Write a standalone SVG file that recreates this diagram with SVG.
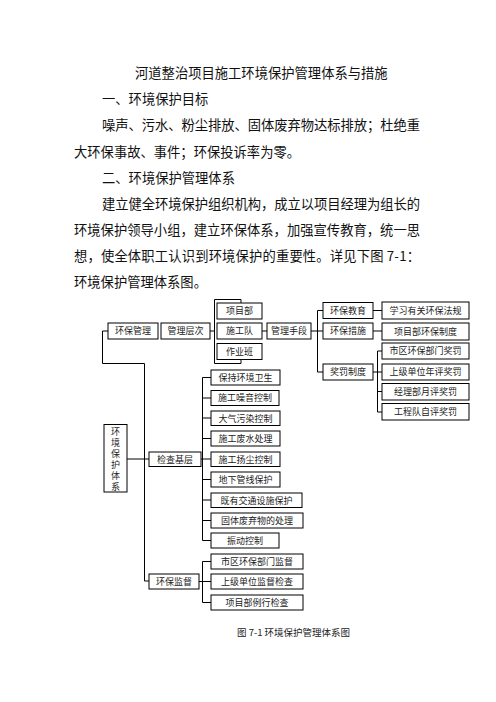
<svg xmlns="http://www.w3.org/2000/svg" width="496" height="702" viewBox="0 0 496 702">
<style>
.t{font-family:"Noto Sans CJK SC","Liberation Serif",serif;font-size:13.3px;fill:#111}
.b rect{fill:#fff;stroke:#000;stroke-width:1}
.b text{font-family:"Noto Sans CJK SC","Liberation Serif",serif;font-size:9px;fill:#222;text-anchor:middle}
.c path{fill:none;stroke:#000;stroke-width:1}
.cap{font-family:"Noto Sans CJK SC","Liberation Serif",serif;font-size:9.5px;fill:#222}
</style>
<rect width="496" height="702" fill="#fff"/>
<g id="text">
<text class="t" x="135" y="78">河道整治项目施工环境保护管理体系与措施</text>
<text class="t" x="102" y="104">一、环境保护目标</text>
<text class="t" x="102" y="130" textLength="318" lengthAdjust="spacing">噪声、污水、粉尘排放、固体废弃物达标排放；杜绝重</text>
<text class="t" x="74" y="157">大环保事故、事件；环保投诉率为零。</text>
<text class="t" x="102" y="183">二、环境保护管理体系</text>
<text class="t" x="102" y="209" textLength="318" lengthAdjust="spacing">建立健全环境保护组织机构，成立以项目经理为组长的</text>
<text class="t" x="74" y="235" textLength="346" lengthAdjust="spacing">环境保护领导小组，建立环保体系，加强宣传教育，统一思</text>
<text class="t" x="74" y="261" textLength="346" lengthAdjust="spacing">想，使全体职工认识到环境保护的重要性。详见下图 7-1：</text>
<text class="t" x="74" y="287">环境保护管理体系图。</text>
</g>
<g class="c" id="connectors">
<path d="M108 331H102.5V363.5H144.5V581H149"/>
<path d="M210 331H214.5"/>
<path d="M241 303V299.5H214.5V363.5H241V359"/>
<path d="M262 331H267"/>
<path d="M311 331H323M323 310.5H317.5V372H323"/>
<path d="M373 310.5H382M373 331H382M373 372H377.5M382 351H377.5V412H382M377.5 372H382M377.5 391.5H382"/>
<path d="M127 459H149"/>
<path d="M201 459H202.5M211 377.5H202.5V540.5H211M202.5 398H211M202.5 418H211M202.5 438.5H211M202.5 459H211M202.5 479.5H211M202.5 500H211M202.5 520.5H211"/>
<path d="M199 581.5H211M211 561.5H202.5V602.5H211"/>
</g>
<g class="b" id="n-huanbaoguanli"><rect x="108" y="323" width="50" height="16"/><text x="133" y="334.4">环保管理</text></g>
<g class="b" id="n-guanlicengci"><rect x="161" y="323" width="49" height="16"/><text x="185.5" y="334.4">管理层次</text></g>
<g class="b" id="n-xiangmubu"><rect x="217" y="303" width="45" height="16"/><text x="239.5" y="314.4">项目部</text></g>
<g class="b" id="n-shigongdui"><rect x="217" y="323" width="45" height="16"/><text x="239.5" y="334.4">施工队</text></g>
<g class="b" id="n-zuoyeban"><rect x="217" y="343.5" width="45" height="16"/><text x="239.5" y="354.9">作业班</text></g>
<g class="b" id="n-guanlishouduan"><rect x="267" y="323" width="44" height="16"/><text x="289" y="334.4">管理手段</text></g>
<g class="b" id="n-huanbaojiaoyu"><rect x="323" y="302.5" width="50" height="16"/><text x="348" y="313.9">环保教育</text></g>
<g class="b" id="n-huanbaocuoshi"><rect x="323" y="323" width="50" height="16"/><text x="348" y="334.4">环保措施</text></g>
<g class="b" id="n-jiangfazhidu"><rect x="323" y="364" width="50" height="16"/><text x="348" y="375.4">奖罚制度</text></g>
<g class="b" id="n-xuexi"><rect x="382" y="302" width="87" height="17"/><text x="425.5" y="313.9">学习有关环保法规</text></g>
<g class="b" id="n-xmbhbzd"><rect x="382" y="323" width="87" height="17"/><text x="425.5" y="334.9">项目部环保制度</text></g>
<g class="b" id="n-shiqujf"><rect x="382" y="343" width="87" height="16"/><text x="425.5" y="354.4">市区环保部门奖罚</text></g>
<g class="b" id="n-shangjijf"><rect x="382" y="364" width="87" height="16"/><text x="425.5" y="375.4">上级单位年评奖罚</text></g>
<g class="b" id="n-jinglijf"><rect x="382" y="383.5" width="87" height="16.5"/><text x="425.5" y="395.1">经理部月评奖罚</text></g>
<g class="b" id="n-gongchengjf"><rect x="382" y="403.5" width="87" height="16.5"/><text x="425.5" y="415.1">工程队自评奖罚</text></g>
<g class="b" id="n-tixi"><rect x="104" y="424.5" width="23" height="67.5"/><text x="115.5" y="427.5" style="writing-mode:vertical-rl;text-anchor:start;letter-spacing:2px">环境保护体系</text></g>
<g class="b" id="n-jianchajiceng"><rect x="149" y="452" width="52" height="14.5"/><text x="175" y="462.6">检查基层</text></g>
<g class="b" id="n-huanbaojiandu"><rect x="149" y="574" width="50" height="15"/><text x="174" y="584.9">环保监督</text></g>
<g class="b" id="n-k1"><rect x="211" y="370" width="69" height="15"/><text x="245.5" y="380.9">保持环境卫生</text></g>
<g class="b" id="n-k2"><rect x="211" y="390.5" width="68" height="15"/><text x="245" y="401.4">施工噪音控制</text></g>
<g class="b" id="n-k3"><rect x="211" y="411" width="69" height="14.5"/><text x="245.5" y="421.6">大气污染控制</text></g>
<g class="b" id="n-k4"><rect x="211" y="431" width="69" height="15"/><text x="245.5" y="441.9">施工废水处理</text></g>
<g class="b" id="n-k5"><rect x="211" y="452" width="69" height="14.5"/><text x="245.5" y="462.6">施工扬尘控制</text></g>
<g class="b" id="n-k6"><rect x="211" y="472" width="69" height="15"/><text x="245.5" y="482.9">地下管线保护</text></g>
<g class="b" id="n-k7"><rect x="211" y="493" width="91" height="14.5"/><text x="256.5" y="503.6">既有交通设施保护</text></g>
<g class="b" id="n-k8"><rect x="211" y="513" width="92" height="15"/><text x="257" y="523.9">固体废弃物的处理</text></g>
<g class="b" id="n-k9"><rect x="211" y="533" width="68" height="15"/><text x="245" y="543.9">振动控制</text></g>
<g class="b" id="n-j1"><rect x="211" y="554" width="92" height="15"/><text x="257" y="564.9">市区环保部门监督</text></g>
<g class="b" id="n-j2"><rect x="211" y="574" width="92" height="15"/><text x="257" y="584.9">上级单位监督检查</text></g>
<g class="b" id="n-j3"><rect x="211" y="595" width="92" height="15"/><text x="257" y="605.9">项目部例行检查</text></g>
<text class="cap" x="237" y="636">图 7-1 环境保护管理体系图</text>
</svg>
